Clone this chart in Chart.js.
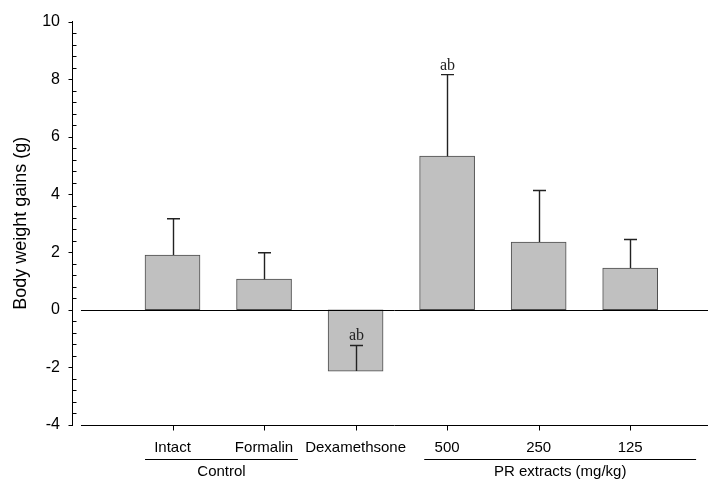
<!DOCTYPE html>
<html>
<head>
<meta charset="utf-8">
<script src="https://cdn.jsdelivr.net/npm/chart.js@4/dist/chart.umd.min.js"></script>
<style>
  html, body { margin: 0; padding: 0; background: #fff; }
  #wrap { width: 708px; height: 479px; }
</style>
</head>
<body>
<div id="wrap"><canvas id="bwChart" width="708" height="479"></canvas></div>
<script>
const categories = ["Intact", "Formalin", "Dexamethsone", "500", "250", "125"];
const gains = [1.9, 1.06, -2.13, 5.33, 2.35, 1.45];
const errors = [1.26, 0.92, 0.89, 2.83, 1.79, 0.99];
const marks = ["", "", "ab", "ab", "", ""];
const yMajorTicks = [-4, -2, 0, 2, 4, 6, 8, 10];
const groupNames = ["Control", "PR extracts (mg/kg)"];
const groupSpans = [[-0.3, 1.37], [2.75, 5.72]];

const SANS = "'Liberation Sans', Arial, sans-serif";
const SERIF = "'Liberation Serif', 'Times New Roman', serif";

const extras = {
  id: "extras",
  afterDatasetsDraw(chart) {
    const { ctx, scales: { x, y }, chartArea } = chart;
    ctx.save();

    // zero line and bottom line, starting a bit right of the y axis
    const xs = x.getPixelForValue(-1);
    ctx.strokeStyle = "#000";
    ctx.lineWidth = 1;
    [0, -4].forEach((v) => {
      const py = Math.round(y.getPixelForValue(v)) + 0.5;
      ctx.beginPath();
      ctx.moveTo(xs, py);
      ctx.lineTo(chartArea.right, py);
      ctx.stroke();
    });

    // x tick marks under the bottom line
    const by = Math.round(y.getPixelForValue(-4)) + 0.5;
    categories.forEach((c, i) => {
      const px = Math.round(x.getPixelForValue(i)) + 0.5;
      ctx.beginPath();
      ctx.moveTo(px, by);
      ctx.lineTo(px, by + 5);
      ctx.stroke();
    });

    // y ticks: majors outward, minors inward
    const ax = chartArea.left + 0.5;
    for (let k = 0; k <= 35; k++) {
      const v = -4 + k * 0.4;
      const py = Math.round(y.getPixelForValue(v)) + 0.5;
      const major = k % 5 === 0;
      ctx.beginPath();
      if (major) {
        ctx.moveTo(ax - 4, py);
        ctx.lineTo(ax, py);
      } else {
        ctx.moveTo(ax, py);
        ctx.lineTo(ax + 4, py);
      }
      ctx.stroke();
    }

    // error bars (upward) and significance marks
    ctx.strokeStyle = "#222";
    ctx.lineWidth = 1.4;
    gains.forEach((g, i) => {
      const px = Math.round(x.getPixelForValue(i)) + 0.5;
      const y0 = y.getPixelForValue(g);
      const y1 = y.getPixelForValue(g + errors[i]);
      ctx.beginPath();
      ctx.moveTo(px, y0);
      ctx.lineTo(px, y1);
      ctx.moveTo(px - 6.5, y1);
      ctx.lineTo(px + 6.5, y1);
      ctx.stroke();
      if (marks[i]) {
        ctx.fillStyle = "#222";
        ctx.font = "16px " + SERIF;
        ctx.textAlign = "center";
        ctx.textBaseline = "alphabetic";
        ctx.fillText(marks[i], px, y1 - 5);
      }
    });

    // group underlines and names
    ctx.strokeStyle = "#000";
    ctx.lineWidth = 1;
    ctx.fillStyle = "#000";
    ctx.font = "15px " + SANS;
    ctx.textAlign = "center";
    ctx.textBaseline = "middle";
    groupNames.forEach((name, i) => {
      const a = x.getPixelForValue(groupSpans[i][0]);
      const b = x.getPixelForValue(groupSpans[i][1]);
      ctx.beginPath();
      ctx.moveTo(a, 459.5);
      ctx.lineTo(b, 459.5);
      ctx.stroke();
      ctx.fillText(name, (a + b) / 2, 472);
    });

    ctx.restore();
  },
};

new Chart(document.getElementById("bwChart"), {
  type: "bar",
  data: {
    datasets: [
      {
        data: gains.map((g, i) => ({ x: i, y: g })),
        backgroundColor: "#c0c0c0",
        borderColor: "#4d4d4d",
        borderWidth: 1,
        borderSkipped: false,
        barThickness: 55,
      },
    ],
  },
  options: {
    responsive: false,
    animation: false,
    layout: { padding: { top: 17, right: 0, left: 0, bottom: 0 } },
    plugins: {
      legend: { display: false },
      tooltip: { enabled: false },
    },
    scales: {
      x: {
        type: "linear",
        min: -1.098,
        max: 5.85,
        offset: false,
        afterBuildTicks: (scale) => {
          scale.ticks = categories.map((c, i) => ({ value: i }));
        },
        afterFit: (scale) => {
          scale.height = 54;
        },
        ticks: {
          autoSkip: false,
          maxRotation: 0,
          padding: 14,
          color: "#000",
          font: { family: SANS, size: 15 },
          callback: (v) => categories[v],
        },
        grid: { display: false, drawTicks: false, offset: false },
        border: { display: false },
      },
      y: {
        min: -4,
        max: 10,
        afterBuildTicks: (scale) => {
          scale.ticks = yMajorTicks.map((v) => ({ value: v }));
        },
        afterFit: (scale) => {
          scale.width = 72;
        },
        ticks: {
          padding: 12,
          color: "#000",
          font: { family: SANS, size: 16 },
        },
        grid: { display: false, drawTicks: false },
        border: { display: true, color: "#000", width: 1 },
        title: {
          display: true,
          text: "Body weight gains (g)",
          color: "#000",
          font: { family: SANS, size: 18 },
          padding: { top: 10, bottom: 0 },
        },
      },
    },
  },
  plugins: [extras],
});
</script>
</body>
</html>
